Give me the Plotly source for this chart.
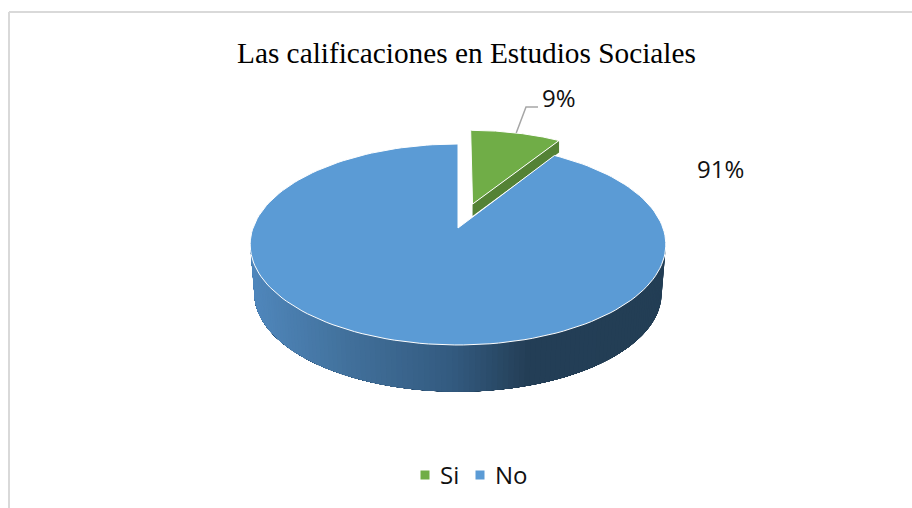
import numpy as np
import plotly.graph_objects as go

# ---- data ----
title_text = "Las calificaciones en Estudios Sociales"
categories = ["Si", "No"]
shares = [9, 91]
colors = ["#70AD47", "#5B9BD5"]

# ---- geometry of the 3-D projection (style, not data) ----
APEX = (458.0, 228.0)
A, B, K = 205.0, 97.8, 0.164
EXPLODE = 0.265
SMALL_RADIUS = 0.94
DROP = 49.0
SHRINK = 0.98
WALL = 12.0


def project(u, v, scale=1.0, shift=0.0):
    d = 1 + K * v
    return APEX[0] + scale * A * u / d, APEX[1] - scale * B * v / d + shift


def wedge(start, end, offset=0.0, radius=1.0):
    mid = np.radians((start + end) / 2)
    ou, ov = offset * np.sin(mid), offset * np.cos(mid)
    t = np.radians(np.linspace(start, end, 160))
    ax, ay = project(ou, ov)
    rx, ry = project(ou + radius * np.sin(t), ov + radius * np.cos(t))
    return np.r_[ax, rx, ax], np.r_[ay, ry, ay], (ax, ay), (rx[-1], ry[-1]), (rx, ry)


def lerp_color(x):
    stops = [(255, (80, 135, 188)), (350, (66, 113, 156)), (458, (51, 90, 127)),
             (530, (36, 63, 87)), (666, (35, 62, 85))]
    xs = [s[0] for s in stops]
    c = [int(np.interp(x, xs, [s[1][i] for s in stops])) for i in range(3)]
    return f"rgb({c[0]},{c[1]},{c[2]})"


fig = go.Figure()


def poly(x, y, fill, line="rgba(0,0,0,0)", width=0):
    fig.add_trace(go.Scatter(x=x, y=y, mode="lines", fill="toself", fillcolor=fill,
                             line=dict(color=line, width=width), showlegend=False,
                             hoverinfo="skip"))


angles = np.cumsum([0] + shares) / sum(shares) * 360

# side wall of the big slice: each band runs on to the far end, so no seams show
limit = np.degrees(np.arccos(-K))
edges = np.linspace(limit, 360 - limit, 121)
for a0 in edges[:-1]:
    ts = np.radians(np.linspace(a0, 360 - limit, 100))
    tx, ty = project(np.sin(ts), np.cos(ts))
    bx, by = project(np.sin(ts), np.cos(ts), SHRINK, DROP)
    col = lerp_color((tx[0] + bx[0]) / 2)
    poly(np.r_[tx, bx[::-1], tx[0]], np.r_[ty, by[::-1], ty[0]], col)

# exploded slice
gx, gy, g_apex, g_end, g_arc = wedge(angles[0], angles[1], EXPLODE, SMALL_RADIUS)
poly([g_apex[0], g_end[0], g_end[0], g_apex[0], g_apex[0]],
     [g_apex[1], g_end[1], g_end[1] + WALL, g_apex[1] + WALL, g_apex[1]], "#548235")
poly(gx, gy, colors[0], "#ffffff", 1)

# big slice
bx, by, *_ = wedge(angles[1], angles[2])
poly(bx, by, colors[1], "#ffffff", 1)

# leader line for the small slice
i = len(g_arc[0]) // 2
lead_x = [g_arc[0][i], 526, 538]
lead_y = [g_arc[1][i], 107, 107]
fig.add_trace(go.Scatter(x=lead_x, y=lead_y, mode="lines", line=dict(color="#A6A6A6", width=1.5),
                         showlegend=False, hoverinfo="skip"))

# legend, laid out by hand because the native one cannot sit this tight
legend_marker_x = [425, 480]
legend_text_x = [439, 494]
LEGEND_Y = 475
fig.add_trace(go.Scatter(x=legend_marker_x, y=[LEGEND_Y] * 2, mode="markers", showlegend=False,
                         hoverinfo="skip",
                         marker=dict(symbol="square", size=9, color=colors, line=dict(width=0))))

text_font = dict(family="Open Sans", size=24, color="#111111")
pct = [f"{round(s / sum(shares) * 100)}%" for s in shares]
label_pos = [(559, 97.5), (720, 168.5)]
annotations = [dict(x=x, y=y, text=t, showarrow=False, xref="x", yref="y", font=text_font)
               for (x, y), t in zip(label_pos, pct)]
annotations += [dict(x=x, y=LEGEND_Y - 1, text=name, showarrow=False, xref="x", yref="y",
                     xanchor="left", xshift=-1, font=text_font)
                for x, name in zip(legend_text_x, categories)]
annotations.append(dict(x=466, y=53, text=title_text, showarrow=False, xref="x", yref="y",
                        font=dict(family="Liberation Serif", size=29.3, color="#000000")))

fig.update_layout(
    width=912, height=508, margin=dict(l=0, r=0, t=0, b=0),
    paper_bgcolor="#ffffff", plot_bgcolor="#ffffff", showlegend=False,
    xaxis=dict(range=[0, 912], visible=False, fixedrange=True),
    yaxis=dict(range=[508, 0], visible=False, fixedrange=True),
    annotations=annotations,
    shapes=[
        dict(type="line", xref="x", yref="y", x0=9, x1=912, y0=12, y1=12,
             line=dict(color="#D9D9D9", width=2)),
        dict(type="line", xref="x", yref="y", x0=9, x1=9, y0=12, y1=508,
             line=dict(color="#D9D9D9", width=2)),
    ],
)

fig.write_html("out.html", config={"displayModeBar": False},
               post_script="document.body.style.margin='0';document.body.style.overflow='hidden';")
